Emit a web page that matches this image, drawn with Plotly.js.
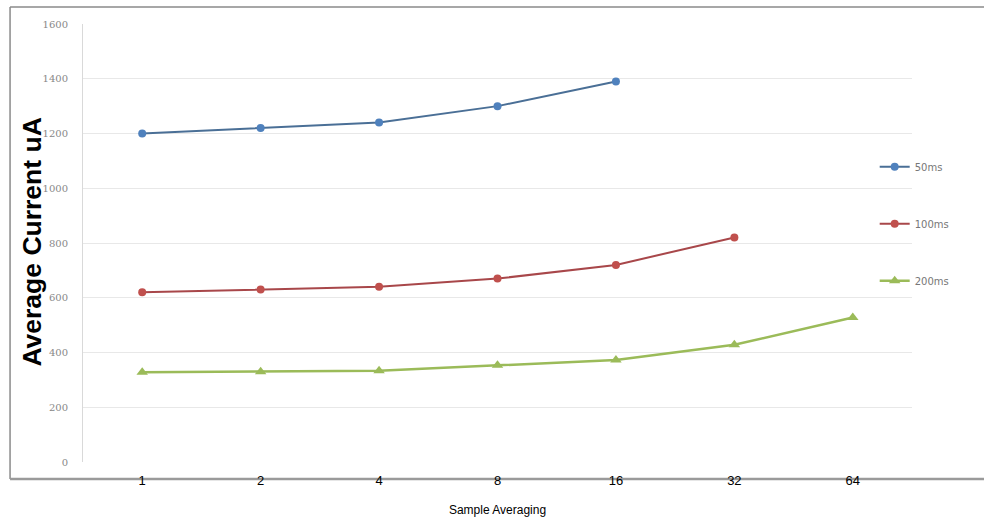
<!DOCTYPE html>
<html>
<head>
<meta charset="utf-8">
<script src="https://cdn.plot.ly/plotly-3.0.1.min.js"></script>
<style>html,body{margin:0;padding:0;background:#fff;}#chart{width:984px;height:520px;}</style>
</head>
<body>
<div id="chart"></div>
<script>
const categories = ["1", "2", "4", "8", "16", "32", "64"];
const seriesNames = ["50ms", "100ms", "200ms"];
const values50 = [1200, 1220, 1240, 1300, 1390];
const values100 = [620, 630, 640, 670, 720, 820];
const values200 = [328, 330, 333, 353, 373, 428, 528];
const yTicks = [0, 200, 400, 600, 800, 1000, 1200, 1400, 1600];

const traces = [
  {x: categories.slice(0, values50.length), y: values50, name: seriesNames[0], legendgroup: "a",
   mode: "lines+markers", line: {color: "#4a6f96", width: 2},
   marker: {color: "#4f81bd", size: 8, symbol: "circle"}},
  {x: categories.slice(0, values100.length), y: values100, name: seriesNames[1], legendgroup: "b",
   mode: "lines+markers", line: {color: "#a8474a", width: 2},
   marker: {color: "#c0504d", size: 8, symbol: "circle"}},
  {x: categories.slice(0, values200.length), y: values200, name: seriesNames[2], legendgroup: "c",
   mode: "lines+markers", line: {color: "#9bbb59", width: 2.5},
   marker: {color: "#9bbb59", size: 10, symbol: "triangle-up"}}
];

const layout = {
  width: 984, height: 520,
  margin: {l: 83, r: 72, t: 24, b: 58, autoexpand: false},
  paper_bgcolor: "#fff", plot_bgcolor: "#fff",
  font: {family: "Liberation Sans, Arial, sans-serif", color: "#000"},
  showlegend: true,
  legend: {x: 0.955, xanchor: "left", y: 0.707, yanchor: "top", tracegroupgap: 38,
           font: {size: 10, color: "#777", family: "DejaVu Sans, sans-serif"},
           itemwidth: 30, bgcolor: "rgba(0,0,0,0)"},
  xaxis: {type: "category", categoryorder: "array", categoryarray: categories,
          range: [-0.5, 6.5], showgrid: false, zeroline: false, showline: false,
          ticks: "", ticklabelstandoff: 9, tickfont: {size: 13, color: "#000"},
          title: {text: "Sample Averaging", font: {size: 12, color: "#000"}, standoff: 18}},
  yaxis: {range: [0, 1600], tickvals: yTicks, ticktext: yTicks.map(String),
          showgrid: true, gridcolor: "#e8e8e8", gridwidth: 1, zeroline: false,
          showline: true, linecolor: "#d9d9d9", linewidth: 1, ticks: "",
          ticklabelstandoff: 12, tickfont: {size: 10, color: "#888", family: "DejaVu Serif, serif"},
          title: {text: ""}},
  annotations: [
    {text: "<b>Average Current uA</b>", xref: "paper", yref: "paper", x: -0.0615, y: 0.501,
     xanchor: "center", yanchor: "middle", textangle: -90, showarrow: false,
     font: {size: 26.5, color: "#000", family: "Liberation Sans, Arial, sans-serif"}}
  ],
  shapes: [
    {type: "line", xref: "paper", yref: "paper", x0: -0.088, x1: -0.088, y0: -0.0388, y1: 1.0388,
     line: {color: "#8a8a8a", width: 1.5}, layer: "below"},
    {type: "line", xref: "paper", yref: "paper", x0: -0.088, x1: 1.09, y0: 1.0388, y1: 1.0388,
     line: {color: "#8a8a8a", width: 1.5}, layer: "below"},
    {type: "line", xref: "paper", yref: "paper", x0: -0.088, x1: 1.09, y0: -0.0388, y1: -0.0388,
     line: {color: "#9a9a9a", width: 2.5}, layer: "below"}
  ]
};

Plotly.newPlot("chart", traces, layout, {displayModeBar: false, staticPlot: true});
</script>
</body>
</html>
